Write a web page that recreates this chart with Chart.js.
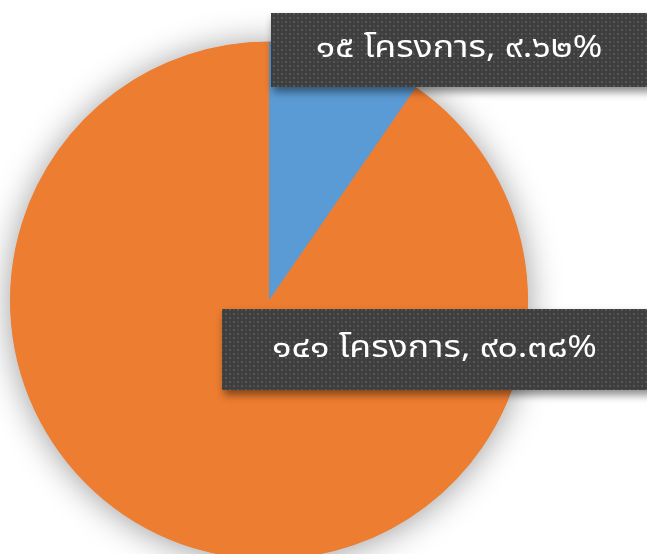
<!DOCTYPE html>
<html>
<head>
<meta charset="utf-8">
<script src="https://cdn.jsdelivr.net/npm/chart.js@4.4.1/dist/chart.umd.min.js"></script>
<style>
  html, body { margin: 0; padding: 0; background: #ffffff; overflow: hidden; }
  #wrap { position: absolute; left: 0; top: 0; width: 647px; height: 600px; }
</style>
</head>
<body>
<div id="wrap"><canvas id="c" width="647" height="600"></canvas></div>
<script>
const categories = ["โครงการ", "โครงการ"];
const values = [15, 141];
const colors = ["#5B9BD5", "#ED7D31"];

const thaiDigits = ["๐","๑","๒","๓","๔","๕","๖","๗","๘","๙"];
function toThai(s) { return String(s).replace(/[0-9]/g, d => thaiDigits[+d]); }

const total = values.reduce((a, b) => a + b, 0);
const labelTexts = values.map((v, i) =>
  toThai(v) + " " + categories[i] + ", " + toThai((v / total * 100).toFixed(2)) + "%");

// label box layout (x, y, w, h)
const boxes = [
  { x: 271, y: 13, w: 376, h: 74 },
  { x: 222, y: 309, w: 425, h: 81 }
];

function makePattern(ctx) {
  const p = document.createElement("canvas");
  p.width = 8; p.height = 8;
  const g = p.getContext("2d");
  g.fillStyle = "#3e3e3e"; g.fillRect(0, 0, 8, 8);
  g.fillStyle = "#575757"; g.fillRect(1, 1, 2, 2); g.fillRect(5, 5, 2, 2);
  g.fillStyle = "#4a4a4a"; g.fillRect(5, 1, 2, 2); g.fillRect(1, 5, 2, 2);
  return ctx.createPattern(p, "repeat");
}

const shadowPlugin = {
  id: "pieShadow",
  beforeDatasetsDraw(chart) {
    const arc = chart.getDatasetMeta(0).data[0];
    if (!arc) return;
    const ctx = chart.ctx;
    ctx.save();
    ctx.shadowColor = "rgba(0,0,0,0.40)";
    ctx.shadowBlur = 34;
    ctx.shadowOffsetX = 0;
    ctx.shadowOffsetY = 2;
    ctx.fillStyle = colors[1];
    ctx.beginPath();
    ctx.arc(arc.x, arc.y, arc.outerRadius - 0.5, 0, Math.PI * 2);
    ctx.fill();
    ctx.restore();
  }
};

const labelPlugin = {
  id: "boxLabels",
  afterDraw(chart) {
    const ctx = chart.ctx;
    const pat = makePattern(ctx);
    boxes.forEach((b, i) => {
      ctx.save();
      ctx.shadowColor = "rgba(0,0,0,0.45)";
      ctx.shadowBlur = 8;
      ctx.shadowOffsetX = 2;
      ctx.shadowOffsetY = 5;
      ctx.fillStyle = "#3e3e3e";
      ctx.fillRect(b.x, b.y, b.w + 20, b.h);
      ctx.restore();
      ctx.save();
      ctx.fillStyle = pat;
      ctx.fillRect(b.x, b.y, b.w + 20, b.h);
      ctx.fillStyle = "#ffffff";
      ctx.font = "31px 'Noto Sans Thai', 'Leelawadee UI', Tahoma, 'Noto Sans', 'DejaVu Sans', sans-serif";
      ctx.textAlign = "center";
      ctx.textBaseline = "middle";
      ctx.translate(b.x + b.w / 2, b.y + b.h / 2 + 1);
      ctx.scale(1.15, 1);
      ctx.fillText(labelTexts[i], 0, 0);
      ctx.restore();
    });
  }
};

new Chart(document.getElementById("c"), {
  type: "pie",
  data: {
    labels: categories,
    datasets: [{
      data: values,
      backgroundColor: colors,
      borderWidth: 0
    }]
  },
  options: {
    responsive: false,
    animation: false,
    layout: { padding: { left: 10, right: 119, top: 41.5, bottom: 40.5 } },
    plugins: {
      legend: { display: false },
      tooltip: { enabled: false },
      title: { display: false }
    }
  },
  plugins: [shadowPlugin, labelPlugin]
});
</script>
</body>
</html>
